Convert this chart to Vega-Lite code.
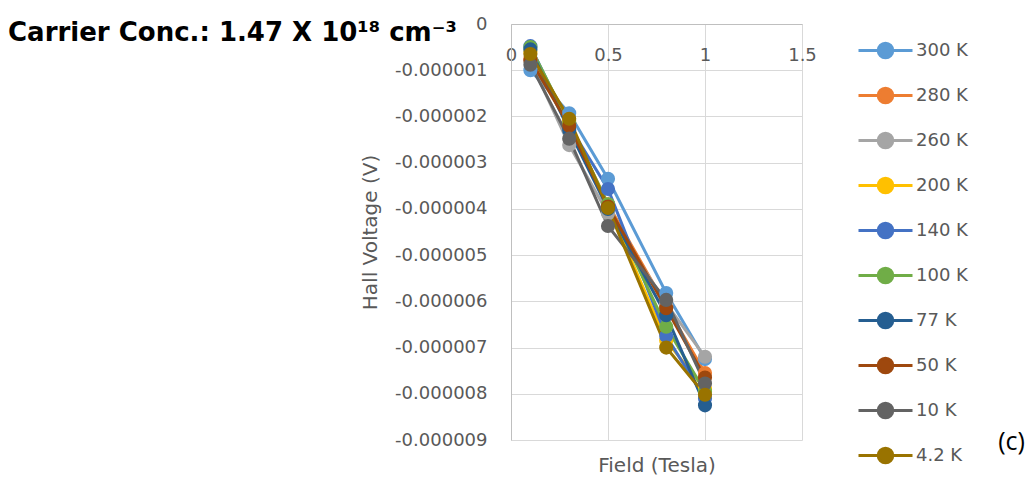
{
  "$schema": "https://vega.github.io/schema/vega-lite/v6.json",
  "autosize": {"type": "none"},
  "width": 291,
  "height": 416,
  "padding": {"left": 511, "top": 24, "right": 231, "bottom": 40},
  "background": "white",
  "title": {
    "text": "Carrier Conc.: 1.47 X 10¹⁸ cm⁻³",
    "font": "DejaVu Sans",
    "fontSize": 26,
    "fontWeight": "bold",
    "color": "#000000",
    "anchor": "start",
    "frame": "group",
    "orient": "top",
    "baseline": "alphabetic",
    "offset": 0,
    "dx": -503,
    "dy": 52
  },
  "config": {
    "view": {"stroke": null},
    "font": "DejaVu Sans"
  },
  "datasets": {
    "hall": [
      {"T": "300 K", "B": 0.1, "V": -0.00000100},
      {"T": "300 K", "B": 0.3, "V": -0.00000193},
      {"T": "300 K", "B": 0.5, "V": -0.00000335},
      {"T": "300 K", "B": 0.8, "V": -0.00000582},
      {"T": "300 K", "B": 1.0, "V": -0.00000725},
      {"T": "280 K", "B": 0.1, "V": -0.00000075},
      {"T": "280 K", "B": 0.3, "V": -0.00000215},
      {"T": "280 K", "B": 0.5, "V": -0.00000390},
      {"T": "280 K", "B": 0.8, "V": -0.00000610},
      {"T": "280 K", "B": 1.0, "V": -0.00000755},
      {"T": "260 K", "B": 0.1, "V": -0.00000080},
      {"T": "260 K", "B": 0.3, "V": -0.00000262},
      {"T": "260 K", "B": 0.5, "V": -0.00000410},
      {"T": "260 K", "B": 0.8, "V": -0.00000605},
      {"T": "260 K", "B": 1.0, "V": -0.00000720},
      {"T": "200 K", "B": 0.1, "V": -0.00000060},
      {"T": "200 K", "B": 0.3, "V": -0.00000210},
      {"T": "200 K", "B": 0.5, "V": -0.00000395},
      {"T": "200 K", "B": 0.8, "V": -0.00000685},
      {"T": "200 K", "B": 1.0, "V": -0.00000790},
      {"T": "140 K", "B": 0.1, "V": -0.00000048},
      {"T": "140 K", "B": 0.3, "V": -0.00000220},
      {"T": "140 K", "B": 0.5, "V": -0.00000357},
      {"T": "140 K", "B": 0.8, "V": -0.00000675},
      {"T": "140 K", "B": 1.0, "V": -0.00000810},
      {"T": "100 K", "B": 0.1, "V": -0.00000050},
      {"T": "100 K", "B": 0.3, "V": -0.00000215},
      {"T": "100 K", "B": 0.5, "V": -0.00000390},
      {"T": "100 K", "B": 0.8, "V": -0.00000655},
      {"T": "100 K", "B": 1.0, "V": -0.00000795},
      {"T": "77 K", "B": 0.1, "V": -0.00000055},
      {"T": "77 K", "B": 0.3, "V": -0.00000230},
      {"T": "77 K", "B": 0.5, "V": -0.00000400},
      {"T": "77 K", "B": 0.8, "V": -0.00000630},
      {"T": "77 K", "B": 1.0, "V": -0.00000825},
      {"T": "50 K", "B": 0.1, "V": -0.00000078},
      {"T": "50 K", "B": 0.3, "V": -0.00000220},
      {"T": "50 K", "B": 0.5, "V": -0.00000395},
      {"T": "50 K", "B": 0.8, "V": -0.00000615},
      {"T": "50 K", "B": 1.0, "V": -0.00000765},
      {"T": "10 K", "B": 0.1, "V": -0.00000088},
      {"T": "10 K", "B": 0.3, "V": -0.00000248},
      {"T": "10 K", "B": 0.5, "V": -0.00000437},
      {"T": "10 K", "B": 0.8, "V": -0.00000597},
      {"T": "10 K", "B": 1.0, "V": -0.00000778},
      {"T": "4.2 K", "B": 0.1, "V": -0.00000065},
      {"T": "4.2 K", "B": 0.3, "V": -0.00000205},
      {"T": "4.2 K", "B": 0.5, "V": -0.00000398},
      {"T": "4.2 K", "B": 0.8, "V": -0.00000700},
      {"T": "4.2 K", "B": 1.0, "V": -0.00000802}
    ],
    "note": [{"t": "(c)"}]
  },
  "layer": [
    {
      "data": {"name": "hall"},
      "mark": {"type": "line", "strokeWidth": 3, "point": {"filled": true, "size": 200, "opacity": 1}},
      "encoding": {
        "x": {
          "field": "B", "type": "quantitative",
          "scale": {"domain": [0, 1.5], "nice": false, "zero": false},
          "axis": {
            "orient": "top",
            "title": "Field (Tesla)",
            "values": [0, 0.5, 1, 1.5],
            "format": "~g",
            "ticks": false,
            "labelPadding": -31,
            "labelBaseline": "middle",
            "labelFontSize": 18,
            "labelColor": "#595959",
            "labelFont": "DejaVu Sans",
            "labelFlush": false,
            "domainColor": "#bfbfbf",
            "domainWidth": 1,
            "gridColor": "#d9d9d9",
            "gridWidth": 1,
            "titleFontSize": 20,
            "titleFontWeight": "normal",
            "titleColor": "#595959",
            "titleFont": "DejaVu Sans",
            "titleY": 441,
            "titleBaseline": "middle"
          }
        },
        "y": {
          "field": "V", "type": "quantitative",
          "scale": {"domain": [-0.000009, 0], "nice": false, "zero": false},
          "axis": {
            "title": "Hall Voltage (V)",
            "values": [0, -0.000001, -0.000002, -0.000003, -0.000004, -0.000005, -0.000006, -0.000007, -0.000008, -0.000009],
            "labelExpr": "datum.value == 0 ? '0' : replace(format(datum.value, '.6f'), '\u2212', '-')",
            "ticks": false,
            "labelPadding": 24,
            "labelFontSize": 18,
            "labelColor": "#595959",
            "labelFont": "DejaVu Sans",
            "labelFlush": false,
            "labelBaseline": "middle",
            "domainColor": "#bfbfbf",
            "domainWidth": 1,
            "gridColor": "#d9d9d9",
            "gridWidth": 1,
            "titleFontSize": 20,
            "titleFontWeight": "normal",
            "titleColor": "#595959",
            "titleFont": "DejaVu Sans",
            "titlePadding": 14
          }
        },
        "color": {
          "field": "T", "type": "nominal",
          "scale": {
            "domain": ["300 K", "280 K", "260 K", "200 K", "140 K", "100 K", "77 K", "50 K", "10 K", "4.2 K"],
            "range": ["#5B9BD5", "#ED7D31", "#A5A5A5", "#FFC000", "#4472C4", "#70AD47", "#255E91", "#9E480E", "#636363", "#997300"]
          },
          "legend": {
            "title": null,
            "orient": "none",
            "legendX": 346,
            "legendY": -2,
            "padding": 0,
            "symbolType": "M-1,0H1M-0.27,0A0.27,0.27 0 1,0 0.27,0A0.27,0.27 0 1,0 -0.27,0Z",
            "symbolSize": 2916,
            "symbolStrokeWidth": 3,
            "labelFontSize": 18,
            "labelFont": "DejaVu Sans",
            "labelColor": "#595959",
            "labelOffset": 2,
            "rowPadding": 3,
            "encode": {
              "symbols": {
                "update": {
                  "fill": {"scale": "color", "field": "value"},
                  "stroke": {"scale": "color", "field": "value"},
                  "opacity": {"value": 1},
                  "fillOpacity": {"value": 1}
                }
              }
            }
          }
        }
      }
    },
    {
      "data": {"name": "note"},
      "mark": {"type": "text", "fontSize": 25, "font": "Open Sans", "color": "#000000", "align": "center", "baseline": "middle"},
      "encoding": {
        "text": {"field": "t"},
        "x": {"datum": 2.58},
        "y": {"datum": -0.00000905}
      }
    }
  ]
}
